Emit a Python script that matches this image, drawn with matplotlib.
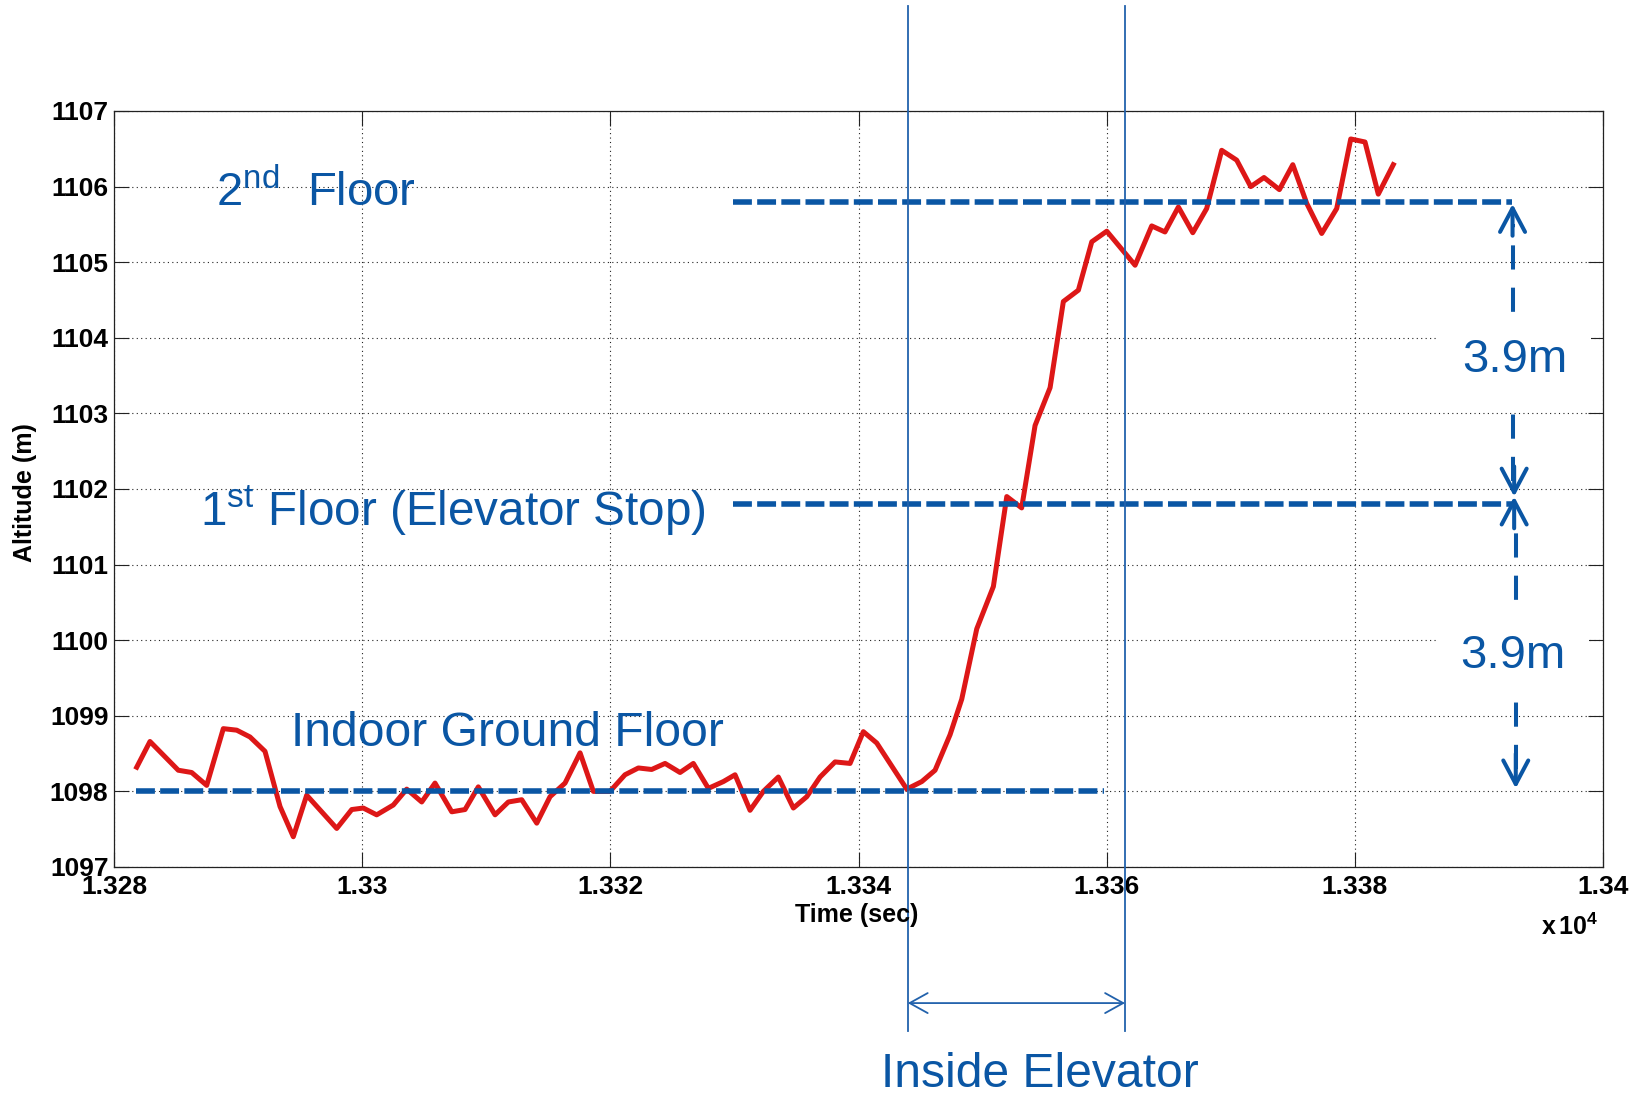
import matplotlib
matplotlib.use('Agg')
import matplotlib.pyplot as plt

plt.rcParams['font.family'] = ['Liberation Sans', 'DejaVu Sans']
plt.rcParams['mathtext.fontset'] = 'custom'
plt.rcParams['mathtext.rm'] = 'Liberation Sans'
plt.rcParams['mathtext.bf'] = 'Liberation Sans:bold'
plt.rcParams['mathtext.it'] = 'Liberation Sans:italic'

# ---------------- data ----------------
time_s = [13281.83, 13282.90, 13285.18, 13286.26, 13287.47, 13288.81, 13289.89, 13290.96, 13292.17, 13293.38,
          13294.45, 13295.53, 13297.95, 13299.16, 13300.09, 13301.17, 13302.51, 13303.59, 13304.80, 13305.87,
          13307.22, 13308.29, 13309.36, 13310.71, 13311.78, 13312.86, 13314.07, 13315.14, 13316.35, 13317.56,
          13318.63, 13319.97, 13321.18, 13322.26, 13323.33, 13324.41, 13325.62, 13326.69, 13327.90, 13329.11,
          13330.05, 13331.26, 13332.33, 13333.54, 13334.75, 13335.83, 13336.90, 13338.11, 13339.32, 13340.39,
          13341.47, 13343.89, 13345.10, 13346.17, 13347.38, 13348.32, 13349.53, 13350.87, 13351.95, 13353.15,
          13354.23, 13355.44, 13356.51, 13357.72, 13358.80, 13360.01, 13362.29, 13363.63, 13364.70, 13365.78,
          13366.94, 13368.06, 13369.27, 13370.48, 13371.61, 13372.68, 13373.92, 13375.00, 13376.12, 13377.33,
          13378.54, 13379.67, 13380.82, 13381.89, 13383.10]
altitude_m = [1098.32, 1098.66, 1098.28, 1098.25, 1098.08, 1098.83, 1098.81, 1098.72, 1098.53, 1097.80,
              1097.40, 1097.95, 1097.51, 1097.76, 1097.78, 1097.69, 1097.82, 1098.03, 1097.86, 1098.11,
              1097.73, 1097.76, 1098.06, 1097.69, 1097.86, 1097.89, 1097.58, 1097.93, 1098.11, 1098.51,
              1098.00, 1098.00, 1098.22, 1098.31, 1098.29, 1098.37, 1098.25, 1098.37, 1098.04, 1098.13,
              1098.22, 1097.75, 1098.00, 1098.19, 1097.78, 1097.93, 1098.19, 1098.39, 1098.37, 1098.79,
              1098.64, 1098.03, 1098.13, 1098.28, 1098.75, 1099.22, 1100.15, 1100.71, 1101.90, 1101.75,
              1102.84, 1103.34, 1104.48, 1104.63, 1105.27, 1105.41, 1104.96, 1105.48, 1105.40, 1105.73,
              1105.39, 1105.71, 1106.48, 1106.35, 1106.00, 1106.12, 1105.96, 1106.29, 1105.78, 1105.38,
              1105.71, 1106.63, 1106.59, 1105.90, 1106.29]

x_ticks = [13280, 13300, 13320, 13340, 13360, 13380, 13400]
x_tick_labels = ['1.328', '1.33', '1.332', '1.334', '1.336', '1.338', '1.34']
y_ticks = [1097, 1098, 1099, 1100, 1101, 1102, 1103, 1104, 1105, 1106, 1107]
y_tick_labels = [str(v) for v in y_ticks]

ground_level = 1098.0
first_level = 1101.8
second_level = 1105.8
ground_span = [13281.8, 13359.8]
floor_span = [13329.9, 13392.7]
elevator_times = [13343.97, 13361.48]
marker_top, marker_bottom = 1108.39, 1094.83
elevator_arrow_y = 1095.2

labels_text = {
    'second': r'$\mathrm{2}^{\mathrm{nd}}$  Floor',
    'first': r'$\mathrm{1}^{\mathrm{st}}$ Floor (Elevator Stop)',
    'ground': 'Indoor Ground Floor',
    'inside': 'Inside Elevator',
    'height': '3.9m',
}

BLUE = '#0a56a4'
LBLUE = '#2262ac'
RED = '#dd1717'

# ---------------- figure ----------------
W, H = 1642, 1095
fig = plt.figure(figsize=(W / 100, H / 100), dpi=100)
ax = fig.add_axes([114 / W, 1 - 867 / H, 1489 / W, 756 / H])

ax.set_xlim(13280, 13400)
ax.set_ylim(1097, 1107)
ax.set_xticks(x_ticks)
ax.set_xticklabels(x_tick_labels)
ax.set_yticks(y_ticks)
ax.set_yticklabels(y_tick_labels)
ax.tick_params(direction='in', length=10.5, width=0.8, top=True, right=True,
               labelsize=19, colors='#222222', labelcolor='black')
ax.tick_params(axis='x', pad=6.0)
ax.tick_params(axis='y', pad=4.0)
for lbl in ax.get_xticklabels() + ax.get_yticklabels():
    lbl.set_fontweight('bold')
for sp in ax.spines.values():
    sp.set_linewidth(0.9)
    sp.set_color('#222222')

ax.set_axisbelow(True)
ax.grid(True, color='#222222', linestyle=(0, (1, 3)), linewidth=0.8)

# data line
ax.plot(time_s, altitude_m, color=RED, lw=3.6, solid_joinstyle='round', zorder=4)

# floor level dashed lines
ax.plot(ground_span, [ground_level, ground_level], color=BLUE, lw=4, dashes=(3.4, 0.95), zorder=5)
ax.plot(floor_span, [first_level, first_level], color=BLUE, lw=4, dashes=(3.4, 0.95), zorder=5)
ax.plot(floor_span, [second_level, second_level], color=BLUE, lw=4, dashes=(3.4, 0.95), zorder=5)

# vertical dimension arrows
xu, xl = 13392.71, 13392.97
x_mid = 13392.84
ax.plot([xu, xu], [first_level + 0.3, second_level - 0.3], color=BLUE, lw=2.9,
        dashes=(6, 4.5), zorder=5)
ax.plot([xl, xl], [ground_level + 0.3, first_level - 0.3], color=BLUE, lw=2.9,
        dashes=(6, 4.5), zorder=5)
head = '->,head_length=0.85,head_width=0.45'
for x, y_tip, y_from in [(xu, second_level - 0.03, second_level - 0.45),
                         (x_mid, first_level + 0.1, first_level + 0.5),
                         (x_mid, first_level + 0.1, first_level - 0.32),
                         (xl, ground_level + 0.04, ground_level + 0.5)]:
    ax.annotate('', xy=(x, y_tip), xytext=(x, y_from),
                arrowprops=dict(arrowstyle=head, mutation_scale=20, lw=2.9, color=BLUE,
                                shrinkA=0, shrinkB=0),
                zorder=5)

box = dict(boxstyle='square,pad=0.5', fc='white', ec='none')
ax.text(13392.88, 1103.55, labels_text['height'], fontsize=34, color=BLUE,
        ha='center', va='baseline', bbox=box, zorder=6)
ax.text(13392.70, 1099.63, labels_text['height'], fontsize=34, color=BLUE,
        ha='center', va='baseline', bbox=box, zorder=6)

# elevator markers
for t in elevator_times:
    ax.plot([t, t], [marker_top, marker_bottom], color=LBLUE, lw=1.3, clip_on=False, zorder=7)
ax.annotate('', xy=(elevator_times[1], elevator_arrow_y), xytext=(elevator_times[0], elevator_arrow_y),
            arrowprops=dict(arrowstyle='<->,head_length=0.65,head_width=0.36', mutation_scale=20,
                            lw=1.3, color=LBLUE, shrinkA=0, shrinkB=0),
            annotation_clip=False)

# annotation texts
ax.text(13288.22, 1105.75, labels_text['second'], fontsize=34, color=BLUE, ha='left', va='baseline', zorder=6)
ax.text(13286.93, 1101.505, labels_text['first'], fontsize=34.3, color=BLUE, ha='left', va='baseline', zorder=6)
ax.text(13294.27, 1098.605, labels_text['ground'], fontsize=34.6, color=BLUE, ha='left', va='baseline', zorder=6)
ax.text(13341.82, 1094.094, labels_text['inside'], fontsize=34.6, color=BLUE, ha='left', va='baseline',
        clip_on=False, zorder=6)

# exponent label
ax.text(13395.0, 1096.10, r'x$\,\mathbf{10}^{\mathbf{4}}$', fontsize=18, fontweight='bold',
        ha='left', va='baseline', clip_on=False)

# axis labels
fig.text(856.7 / W, 1 - 922 / H, 'Time (sec)', fontsize=18, fontweight='bold',
         ha='center', va='baseline')
fig.text(37 / W, 1 - 493 / H, 'Altitude (m)', fontsize=18, fontweight='bold',
         rotation=90, ha='right', va='center')

fig.savefig('out.png', dpi=100)
